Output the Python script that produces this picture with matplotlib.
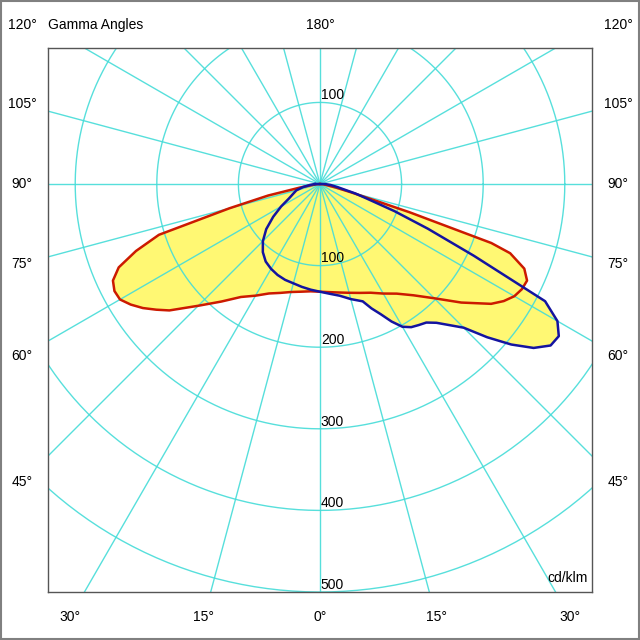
import numpy as np
import matplotlib
matplotlib.use("Agg")
import matplotlib.pyplot as plt
from matplotlib.patches import Rectangle

plt.rcParams['font.family'] = ['Liberation Sans', 'DejaVu Sans']

# C0-C180 plane (red), gamma in degrees (negative = left side), cd/klm
red_gamma = [-90, -85, -80, -77.5, -75, -72.5, -70, -67.5, -65, -62.5, -60, -57.5, -55,
             -52.5, -50, -45, -40, -35, -30, -25, -20, -15, -10, -5, 0, 5, 10, 15, 20,
             25, 30, 35, 40, 45, 50, 55, 57.5, 60, 62.5, 65, 67.5, 70, 71, 72.5, 75,
             77.5, 80, 85, 90]
red_cd = [0, 6, 25, 65, 115, 207, 240, 267, 280, 284, 283, 275, 265,
          253, 241, 211, 188, 169, 158, 148, 142, 137, 134, 132, 132, 133, 135, 138, 142,
          147, 155, 164, 178, 198, 226, 256, 267, 275, 279, 280, 271, 248, 222, 115, 40,
          20, 10, 4, 0]

# C90-C270 plane (blue)
blue_gamma = [-90, -85, -80, -75, -70, -65, -60, -55, -50, -45, -40, -35, -30, -25, -20,
              -15, -10, -5, 0, 5, 10, 15, 20, 22.5, 25, 27.5, 30, 32.5, 35, 37.5, 40,
              45, 47.5, 50, 52.5, 55, 57.5, 60, 62.5, 65, 67.5, 70, 72.5, 75, 80, 85, 90]
blue_cd = [6, 12, 21, 30, 35, 42, 55, 70, 86, 99, 109, 116, 120, 123, 125,
           126, 128, 130, 132, 135, 139, 146, 153, 165, 176, 190, 202, 208, 211, 214, 222,
           249, 278, 306, 330, 345, 347, 336, 311, 208, 143, 97, 62, 45, 22, 13, 6]

circle_values = [100, 200, 300, 400, 500]
lower_labels = ["100", "200", "300", "400", "500"]
side_angles = [105, 90, 75, 60, 45]
bottom_angles = [-30, -15, 0, 15, 30]


def to_xy(gamma, cd):
    g = np.radians(gamma)
    cd = np.asarray(cd, dtype=float)
    return cd * np.sin(g), -cd * np.cos(g)


fig = plt.figure(figsize=(6.4, 6.4), dpi=100)
ax = fig.add_axes([48 / 640, 48 / 640, 544 / 640, 544 / 640])
ax.set_xlim(-333.3, 333.3)
ax.set_ylim(-500, 166.7)
ax.set_aspect('equal')
ax.set_xticks([])
ax.set_yticks([])
for sp in ax.spines.values():
    sp.set_color('#555555')
    sp.set_linewidth(1)

grid_col = '#45dcd8'

rx, ry = to_xy(red_gamma, red_cd)
bx, by = to_xy(blue_gamma, blue_cd)
ax.fill(rx, ry, color='#fff873', lw=0, zorder=1)
ax.fill(bx, by, color='#fff873', lw=0, zorder=1)

# polar grid
t = np.linspace(0, 2 * np.pi, 400)
for r in circle_values:
    ax.plot(r * np.cos(t), r * np.sin(t), color=grid_col, lw=1, zorder=2, alpha=0.9)
for a in range(0, 360, 15):
    gx, gy = to_xy([a, a], [0, 800])
    ax.plot(gx, gy, color=grid_col, lw=1, zorder=2, alpha=0.9)

ax.plot(np.append(rx, rx[0]), np.append(ry, ry[0]), color='#cc1a00', lw=1.8, zorder=3,
        solid_joinstyle='round')
ax.plot(np.append(bx, bx[0]), np.append(by, by[0]), color='#1414a0', lw=1.8, zorder=3,
        solid_joinstyle='round')

# intensity labels
ax.text(1, 100 + 4, "100", fontsize=10, ha='left', va='baseline', zorder=4)
for r, lab in zip(circle_values, lower_labels):
    ax.text(1, -r + 4, lab, fontsize=10, ha='left', va='baseline', zorder=4, clip_on=False)

# gamma angle labels
lab_x = 365.2
lab_top = 194.9
lab_bottom = -530.6
for g in side_angles:
    y = -lab_x * np.cos(np.radians(g)) / np.sin(np.radians(g))
    ax.text(-lab_x, y, f"{g}°", fontsize=10, ha='center', va='center', clip_on=False)
    ax.text(lab_x, y, f"{g}°", fontsize=10, ha='center', va='center', clip_on=False)
for g in bottom_angles:
    x = -lab_bottom * np.tan(np.radians(g))
    ax.text(x, lab_bottom, f"{abs(g)}°", fontsize=10, ha='center', va='center', clip_on=False)
ax.text(-lab_x, lab_top, "120°", fontsize=10, ha='center', va='center', clip_on=False)
ax.text(lab_x, lab_top, "120°", fontsize=10, ha='center', va='center', clip_on=False)
ax.text(0, lab_top, "180°", fontsize=10, ha='center', va='center', clip_on=False)
ax.text(-333.3, lab_top, "Gamma Angles", fontsize=10, ha='left', va='center', clip_on=False)
ax.text(328, -483, "cd/klm", fontsize=10, ha='right', va='center')

fig.patches.append(Rectangle((0.0015, 0.0015), 0.997, 0.997, transform=fig.transFigure,
                             fill=False, edgecolor='#808080', lw=1.5))

fig.savefig("out.png", dpi=100)
